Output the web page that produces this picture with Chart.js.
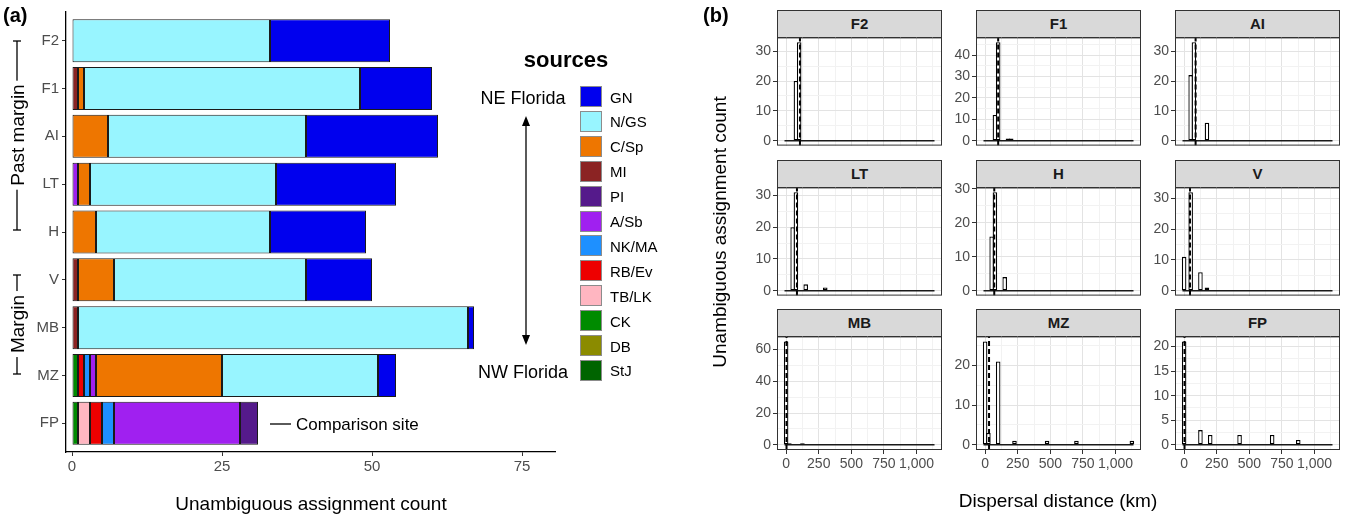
<!DOCTYPE html>
<html lang="en">
<head>
<meta charset="utf-8">
<title>Unambiguous assignments and dispersal distance</title>
<script src="https://cdn.jsdelivr.net/npm/chart.js@4.4.1/dist/chart.umd.min.js"></script>
<style>
  body { margin: 0; background: #fff; font-family: "Liberation Sans", Arial, sans-serif; }
  #page { position: relative; width: 1348px; height: 519px; overflow: hidden; }
  #page canvas, .txt, .strip, .key, #marks { position: absolute; }
  .txt { white-space: nowrap; color: #000; line-height: 1; }
  .c { transform: translate(-50%, -50%); }
  .l { transform: translate(0, -50%); }
  .rot { transform: translate(-50%, -50%) rotate(-90deg); }
  .strip { background: #d9d9d9; border: 1px solid #333; box-sizing: border-box;
           font-weight: bold; font-size: 15px; color: #1a1a1a; text-align: center; }
  .key { box-sizing: border-box; border: 1px solid #8c8c8c; }
</style>
</head>
<body>
<div id="page">
  <canvas id="barA" width="560" height="519" style="left:0;top:0"></canvas>

  <svg id="marks" width="1348" height="519" style="left:0;top:0">
    <g stroke="#000" stroke-width="1.3" fill="none">
      <line x1="17" y1="41" x2="17" y2="230"/>
      <line x1="13" y1="41" x2="21" y2="41"/>
      <line x1="13" y1="230" x2="21" y2="230"/>
      <line x1="17" y1="275" x2="17" y2="374"/>
      <line x1="13" y1="275" x2="21" y2="275"/>
      <line x1="13" y1="374" x2="21" y2="374"/>
      <line x1="270" y1="424" x2="291" y2="424"/>
      <line x1="526" y1="124" x2="526" y2="337"/>
    </g>
    <polygon points="526,116 522,126 530,126" fill="#000"/>
    <polygon points="526,345 522,335 530,335" fill="#000"/>
  </svg>

  <div class="txt" style="left:3px;top:5px;font-size:20px;font-weight:bold;">(a)</div>
  <div class="txt" style="left:703px;top:5px;font-size:20px;font-weight:bold;">(b)</div>
  <div class="txt rot" style="left:17px;top:135px;font-size:19px;background:#fff;padding:0 4px;">Past margin</div>
  <div class="txt rot" style="left:17px;top:324px;font-size:19px;background:#fff;padding:0 4px;">Margin</div>
  <div class="txt c" style="left:523px;top:98px;font-size:18px;">NE Florida</div>
  <div class="txt c" style="left:523px;top:372px;font-size:18px;">NW Florida</div>
  <div class="txt l" style="left:296px;top:424px;font-size:17px;">Comparison site</div>
  <div class="txt c" style="left:311px;top:503px;font-size:19px;">Unambiguous assignment count</div>
  <div class="txt c" style="left:566px;top:60px;font-size:22px;font-weight:bold;">sources</div>
  <div class="txt rot" style="left:719px;top:232px;font-size:19px;">Unambiguous assignment count</div>
  <div class="txt c" style="left:1058px;top:500px;font-size:19px;">Dispersal distance (km)</div>
</div>

<script>
// ---- panel (a): unambiguous assignments per site, by source ----
const sites = ['F2', 'F1', 'AI', 'LT', 'H', 'V', 'MB', 'MZ', 'FP'];
const sources = ['GN', 'N/GS', 'C/Sp', 'MI', 'PI', 'A/Sb', 'NK/MA', 'RB/Ev', 'TB/LK', 'CK', 'DB', 'StJ'];
const sourceColors = ['#0000ee', '#98f5ff', '#ee7600', '#8b2323', '#551a8b', '#a020f0',
                      '#1e90ff', '#ee0000', '#ffb6c1', '#008b00', '#8b8b00', '#006400'];

// counts by site, order F2 F1 AI LT H V MB MZ FP
const nGN   = [20, 12, 22, 20, 16, 11, 1, 3, 0];
const nNGS  = [33, 46, 33, 31, 29, 32, 65, 26, 0];
const nCSp  = [0, 1, 6, 2, 4, 6, 0, 21, 0];
const nMI   = [0, 1, 0, 0, 0, 1, 1, 0, 0];
const nPI   = [0, 0, 0, 0, 0, 0, 0, 0, 3];
const nASb  = [0, 0, 0, 1, 0, 0, 0, 1, 21];
const nNKMA = [0, 0, 0, 0, 0, 0, 0, 1, 2];
const nRBEv = [0, 0, 0, 0, 0, 0, 0, 1, 2];
const nTBLK = [0, 0, 0, 0, 0, 0, 0, 0, 2];
const nCK   = [0, 0, 0, 0, 0, 0, 0, 1, 1];
const nDB   = [0, 0, 0, 0, 0, 0, 0, 0, 0];
const nStJ  = [0, 0, 0, 0, 0, 0, 0, 0, 0];
const countTicks = [0, 25, 50, 75];

// ---- panel (b): dispersal distance histograms (25 km bins) ----
const binWidth = 25;
const kmF2 = [75, 100],                          cntF2 = [20, 33];
const kmF1 = [75, 100, 175, 200],                cntF1 = [12, 46, 1, 1];
const kmAI = [50, 75, 175],                      cntAI = [22, 33, 6];
const kmLT = [50, 75, 150, 300],                 cntLT = [20, 31, 2, 1];
const kmH  = [50, 75, 150],                      cntH  = [16, 29, 4];
const kmV  = [0, 50, 125, 175],                  cntV  = [11, 32, 6, 1];
const kmMB = [0, 25, 125],                       cntMB = [65, 1, 1];
const kmMZ = [0, 25, 100, 225, 475, 700, 1125],  cntMZ = [26, 3, 21, 1, 1, 1, 1];
const kmFP = [0, 125, 200, 425, 675, 875],       cntFP = [21, 3, 2, 2, 2, 1];
const centralKm = [106, 100, 88, 83, 70, 45, 3, 30, 3];   // dashed reference line
const yStep = [10, 10, 10, 10, 10, 10, 20, 10, 5];
const kmTicks = [0, 250, 500, 750, 1000];

Chart.defaults.font.family = '"Liberation Sans", Arial, sans-serif';
const TICK_COL = '#4d4d4d';
const page = document.getElementById('page');

// legend
sources.forEach((s, i) => {
  const y = 86 + i * 24.9;
  const k = document.createElement('div');
  k.className = 'key';
  k.style.cssText = `left:580px;top:${y}px;width:22px;height:21px;background:${sourceColors[i]}`;
  page.appendChild(k);
  const t = document.createElement('div');
  t.className = 'txt l';
  t.style.cssText = `left:610px;top:${y + 10.5}px;font-size:15px;`;
  t.textContent = s;
  page.appendChild(t);
});

const bySource = [nGN, nNGS, nCSp, nMI, nPI, nASb, nNKMA, nRBEv, nTBLK, nCK, nDB, nStJ];
const stackSets = sources.map((s, i) => ({
  label: s,
  data: bySource[i].map((v, j) => ({ x: v, y: j })),
  backgroundColor: sourceColors[i],
  borderColor: '#1a1a1a',
  borderWidth: 1,
  borderSkipped: false,
  barPercentage: 0.9,
  categoryPercentage: 1
})).reverse();

new Chart(document.getElementById('barA'), {
  type: 'bar',
  data: { datasets: stackSets },
  options: {
    indexAxis: 'y',
    responsive: false,
    animation: false,
    layout: { padding: { top: 12, right: 5, left: 0, bottom: 0 } },
    plugins: { legend: { display: false }, tooltip: { enabled: false } },
    scales: {
      x: {
        type: 'linear', stacked: true, min: -1, max: 80.5,
        afterBuildTicks: s => { s.ticks = countTicks.map(v => ({ value: v })); },
        afterFit: s => { s.height = 67; },
        grid: { drawOnChartArea: false, tickLength: 4, color: '#333' },
        border: { color: '#000', width: 1.3 },
        ticks: { color: TICK_COL, font: { size: 15 }, padding: 2 }
      },
      y: {
        type: 'linear', stacked: true, reverse: true, min: -0.6, max: 8.6, offset: false,
        afterBuildTicks: s => { s.ticks = sites.map((_, i) => ({ value: i })); },
        afterFit: s => { s.width = 66; },
        grid: { drawOnChartArea: false, tickLength: 4, color: '#333', offset: false },
        border: { color: '#000', width: 1.3 },
        ticks: { color: TICK_COL, font: { size: 15 }, padding: 3, callback: v => sites[v] }
      }
    }
  }
});

// facets
const facetKm = [kmF2, kmF1, kmAI, kmLT, kmH, kmV, kmMB, kmMZ, kmFP];
const facetCnt = [cntF2, cntF1, cntAI, cntLT, cntH, cntV, cntMB, cntMZ, cntFP];
const binCenters = Array.from({ length: 46 }, (_, i) => i * binWidth);
const panelLeft = [777, 976, 1175];
const stripTop = [10, 160, 309];
const PW = 165, PH = 114, STRIP = 27, AXW = 40;
const MAJ = '#e3e3e3', MIN = '#f2f2f2';

const panelBox = {
  id: 'panelBox',
  afterDatasetsDraw(chart) {
    const { ctx, chartArea: a } = chart;
    ctx.save();
    ctx.strokeStyle = '#333';
    ctx.lineWidth = 1;
    ctx.strokeRect(a.left + 0.5, a.top + 0.5, a.width - 1, a.height - 1);
    ctx.restore();
  }
};

sites.forEach((site, i) => {
  const r = Math.floor(i / 3), c = i % 3;
  const bottomRow = r === 2;
  const pl = panelLeft[c], pt = stripTop[r] + STRIP;

  const strip = document.createElement('div');
  strip.className = 'strip';
  strip.style.cssText = `left:${pl}px;top:${stripTop[r]}px;width:${PW}px;height:${STRIP + 1}px;line-height:${STRIP - 1}px;`;
  strip.textContent = site;
  page.appendChild(strip);

  const cv = document.createElement('canvas');
  cv.width = AXW + PW + 5;
  cv.height = 10 + PH + (bottomRow ? 30 : 5);
  cv.style.left = (pl - AXW) + 'px';
  cv.style.top = (pt - 10) + 'px';
  page.appendChild(cv);

  const km = facetKm[i], cnt = facetCnt[i];
  const bars = binCenters.map(b => {
    const k = km.indexOf(b);
    return { x: b, y: k < 0 ? 0 : cnt[k] };
  });
  const top = Math.max(...cnt);
  const yMin = -0.05 * top, yMax = 1.05 * top;
  const lo = binCenters[0] - binWidth / 2;
  const hi = binCenters[binCenters.length - 1] + binWidth / 2;
  const xPad = 0.05 * (hi - lo);
  const step = yStep[i];

  const yVals = [];
  for (let v = 0; v <= yMax; v += step / 2) yVals.push(v);
  const xVals = [];
  for (let v = 0; v <= hi + xPad; v += 125) xVals.push(v);

  new Chart(cv, {
    type: 'bar',
    data: {
      datasets: [
        { type: 'line', data: [{ x: centralKm[i], y: yMin }, { x: centralKm[i], y: yMax }],
          borderColor: '#000', borderWidth: 2, borderDash: [5, 3], pointRadius: 0 },
        { data: bars, backgroundColor: '#fff', borderColor: '#000', borderWidth: 1.3,
          borderSkipped: false, barPercentage: 1.4, categoryPercentage: 1, inflateAmount: 0 },
        { type: 'line', data: [{ x: lo, y: 0 }, { x: hi, y: 0 }],
          borderColor: '#1a1a1a', borderWidth: 1.5, pointRadius: 0 }
      ]
    },
    options: {
      responsive: false,
      animation: false,
      layout: { padding: { top: 10, right: 5, left: 0, bottom: bottomRow ? 0 : 5 } },
      plugins: { legend: { display: false }, tooltip: { enabled: false } },
      scales: {
        x: {
          type: 'linear', min: lo - xPad, max: hi + xPad, offset: false,
          afterBuildTicks: s => { s.ticks = xVals.map(v => ({ value: v })); },
          afterFit: s => { s.height = bottomRow ? 30 : 0; },
          grid: {
            offset: false, lineWidth: 1, tickLength: 4, drawTicks: bottomRow,
            color: ctx => (kmTicks.includes(ctx.tick.value) ? MAJ : MIN),
            tickColor: ctx => (kmTicks.includes(ctx.tick.value) ? '#333' : 'rgba(0,0,0,0)')
          },
          border: { display: false },
          ticks: {
            display: bottomRow, autoSkip: false, maxRotation: 0, color: TICK_COL,
            font: { size: 14 }, padding: 2,
            callback: v => (kmTicks.includes(v) ? v.toLocaleString('en-US') : '')
          }
        },
        y: {
          type: 'linear', min: yMin, max: yMax,
          afterBuildTicks: s => { s.ticks = yVals.map(v => ({ value: v })); },
          afterFit: s => { s.width = AXW; },
          grid: {
            lineWidth: 1, tickLength: 4,
            color: ctx => (ctx.tick.value % step === 0 ? MAJ : MIN),
            tickColor: ctx => (ctx.tick.value % step === 0 ? '#333' : 'rgba(0,0,0,0)')
          },
          border: { display: false },
          ticks: {
            autoSkip: false, color: TICK_COL, font: { size: 14 }, padding: 2,
            callback: v => (v % step === 0 ? v : '')
          }
        }
      }
    },
    plugins: [panelBox]
  });
});
</script>
</body>
</html>
